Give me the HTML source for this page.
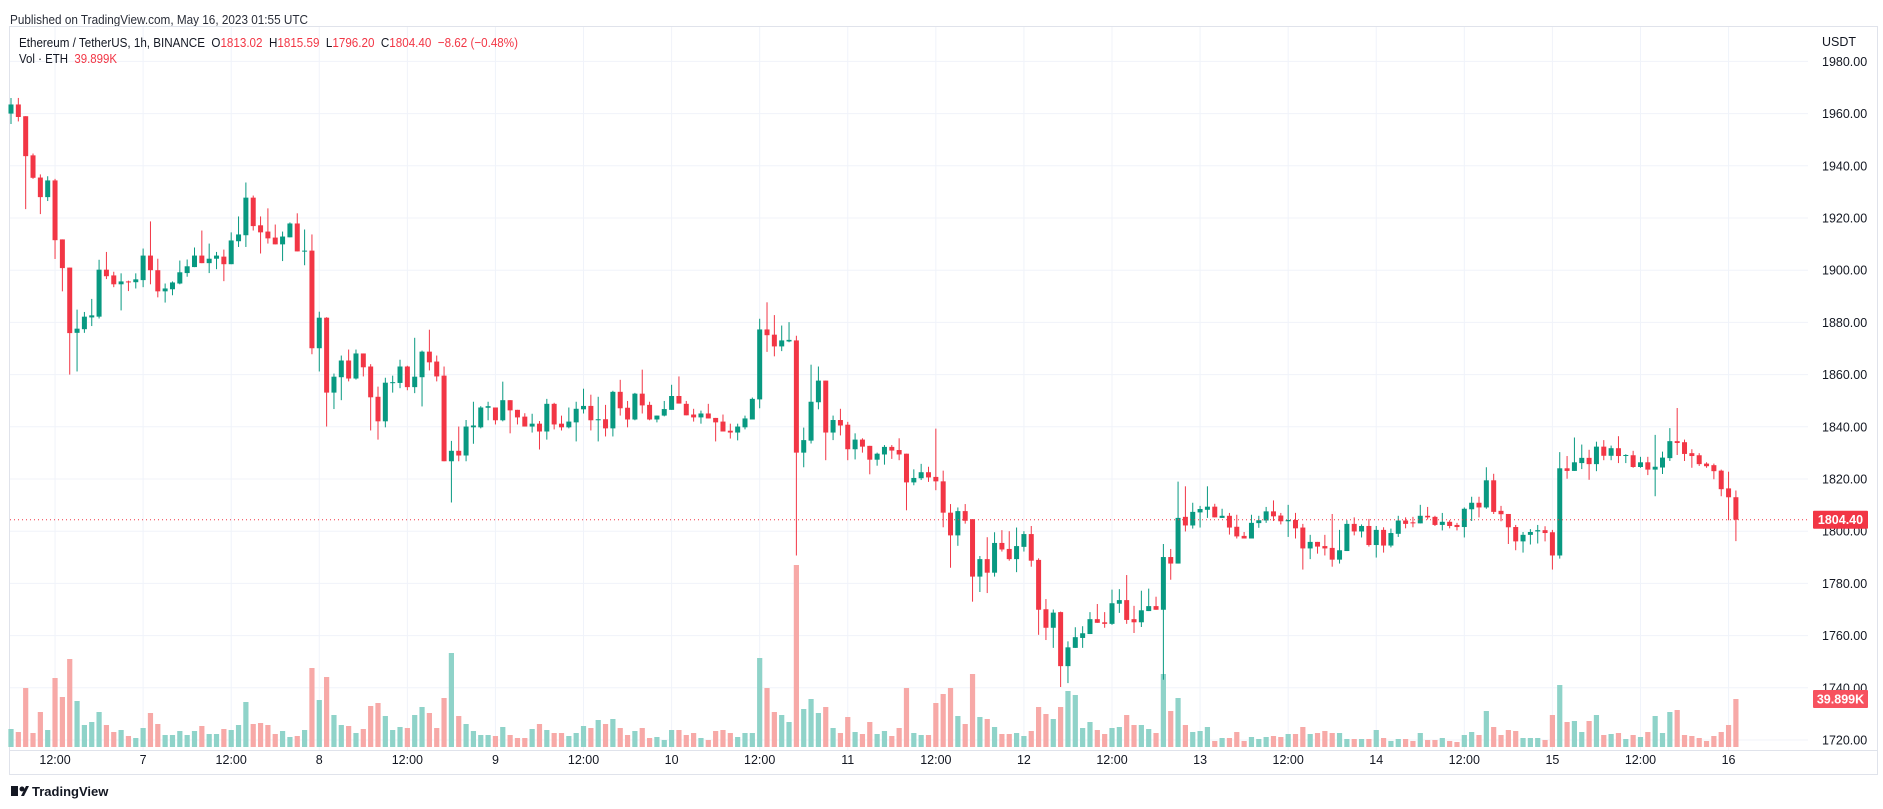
<!DOCTYPE html>
<html><head><meta charset="utf-8"><style>
html,body{margin:0;padding:0;background:#fff;}
svg{display:block;font-family:"Liberation Sans",sans-serif;}
.pre{white-space:pre;}
</style></head><body>
<svg id="chart" width="1883" height="809" viewBox="0 0 1883 809" xmlns="http://www.w3.org/2000/svg">
<rect x="0" y="0" width="1883" height="809" fill="#ffffff"/>
<text x="10" y="24" font-size="13" fill="#2a2e39" textLength="298" lengthAdjust="spacingAndGlyphs">Published on TradingView.com, May 16, 2023 01:55 UTC</text>
<rect x="9.5" y="26.5" width="1868" height="748" fill="none" stroke="#e0e3eb"/>
<g id="grid"></g>
<g id="volumes"></g>
<g id="candles"></g>
<g id="axes"></g>
<text class="pre" x="19" y="47" font-size="13" fill="#131722" textLength="499" lengthAdjust="spacingAndGlyphs">Ethereum / TetherUS, 1h, BINANCE  O<tspan fill="#f23645">1813.02</tspan>  H<tspan fill="#f23645">1815.59</tspan>  L<tspan fill="#f23645">1796.20</tspan>  C<tspan fill="#f23645">1804.40  −8.62 (−0.48%)</tspan></text>
<text class="pre" x="19" y="63" font-size="13" fill="#131722" textLength="98" lengthAdjust="spacingAndGlyphs">Vol · ETH  <tspan fill="#f23645">39.899K</tspan></text>
<text x="1822" y="46" font-size="12.5" fill="#131722">USDT</text>
<g>
<rect x="11" y="786" width="7" height="10" fill="#131722"/>
<circle cx="22" cy="789" r="2.5" fill="#131722"/>
<path d="M21 796 L26 786 L29 786 L24 796 Z" fill="#131722"/>
<text x="32" y="796" font-size="13" font-weight="bold" fill="#131722">TradingView</text>
</g>
</svg>
<script>
const open=[1960,1963.5,1959,1944,1935.5,1928,1934.4,1911.8,1901,1876,1877.4,1881.9,1882.2,1900.2,1898,1894.6,1895.7,1895.4,1896.2,1905.6,1900,1891.9,1892.7,1894.9,1898.9,1901.2,1905.6,1902.7,1904.4,1905.2,1902.3,1911.1,1913.4,1927.8,1917.2,1914.8,1912.5,1909.9,1912.6,1917.9,1907.2,1907.5,1870.1,1881.8,1853.1,1859,1865.4,1858.5,1868.1,1863.1,1851.5,1842.1,1856.9,1856.8,1863.1,1855.2,1859,1868.8,1865,1859.6,1826.8,1830.8,1829,1839.8,1839.8,1847.3,1847.4,1842.5,1850.2,1846.5,1843.9,1840.1,1841.2,1838.2,1848.8,1841.2,1839.8,1841.7,1846.7,1848,1842.5,1842.9,1839.4,1853.4,1847.3,1842.8,1852.7,1848.4,1842.8,1844.3,1846.5,1851.8,1848.8,1844.7,1843.6,1845.1,1843.4,1842,1838.5,1837.8,1839.8,1842.8,1850.5,1877.3,1875.3,1870.8,1872.7,1873.1,1830.1,1834.7,1849.4,1857.7,1837.8,1842.6,1840.8,1831.4,1835.1,1832.7,1827.4,1829.4,1832.3,1831.1,1829.7,1818.7,1820.3,1822.6,1820.8,1819.1,1807.1,1798.4,1807.7,1804.6,1782.6,1789.3,1784.1,1795.5,1793.2,1789.3,1794,1798.9,1789,1770.1,1763,1769,1748.3,1755.3,1759.1,1760.6,1766.3,1765.1,1764.5,1772.2,1773.6,1766.3,1765.1,1769.4,1771.3,1769.9,1790.1,1787.6,1805.5,1802.2,1807.2,1808.2,1809.4,1805.1,1805.9,1801.7,1798.2,1797.2,1803.1,1804.1,1807.6,1806,1803.8,1804.3,1801.4,1793.4,1795.9,1794.3,1793.6,1789.1,1792.4,1802.8,1799.9,1802,1794.7,1800.5,1794.5,1799,1804.1,1803.4,1803,1805.9,1805.5,1802.4,1803.6,1802.4,1801.6,1808.4,1810.9,1809.1,1819.5,1807.8,1806.6,1801.6,1796.1,1798.6,1799.9,1800.4,1799.6,1790.7,1824.1,1823.1,1826.1,1828.1,1825.7,1832.4,1828.9,1831.8,1828.9,1829.1,1824.6,1826.4,1823.6,1824.4,1828,1834.5,1834.1,1829.9,1829.1,1825.9,1825.3,1823.2,1816.4,1813.02];
const high=[1966,1966,1959,1944.7,1936.7,1936,1935,1911.8,1901,1884.9,1884,1889,1904,1907,1899.4,1898.8,1896,1898.8,1908.3,1918.7,1904.4,1894.9,1895.7,1903.7,1904.1,1908.7,1915.2,1910.2,1907,1907.9,1914.5,1920.6,1933.6,1928.6,1920.6,1923.7,1917.5,1914.8,1918.3,1921.8,1915.6,1913.7,1884.1,1882,1860.4,1867.3,1869.6,1869.6,1868.1,1864,1855.4,1858.8,1859.6,1865.7,1863.4,1874.1,1869.2,1877.2,1867.3,1863.1,1834.6,1840.1,1842.6,1849.6,1847.9,1849.6,1847.4,1857.3,1850.2,1846.5,1845.2,1845,1842.2,1850.7,1849.2,1844.3,1847.4,1849.6,1854.6,1852.3,1851.5,1848.4,1853.8,1858,1849.9,1853,1861.9,1849.6,1844.3,1849.9,1856.1,1859.3,1849.9,1846.9,1846.2,1848.8,1843.4,1844.7,1841.2,1841.2,1844.3,1851.2,1881.4,1887.7,1882.8,1878.8,1880.1,1874.9,1839.7,1863.8,1863.1,1857.7,1844.3,1846.9,1841.9,1837.5,1835.6,1832.7,1830.1,1833,1833,1835.6,1829.7,1823.7,1825.8,1824.7,1839.3,1823.2,1810.4,1809.1,1810.4,1804.6,1790.5,1797.7,1799.6,1800.4,1800,1801.4,1800,1802,1789.6,1774,1770,1769.2,1757.8,1763.2,1763.6,1769,1772.1,1769,1777.6,1777.8,1783.2,1771.4,1777.2,1778,1774.9,1795.1,1793.2,1819,1817.2,1810.9,1809.7,1817.2,1810.5,1808.6,1807,1806.3,1799.7,1806.3,1805.9,1809.3,1811.8,1807,1810.1,1807,1802.8,1798.6,1795.9,1798.6,1806.6,1800.5,1804.2,1805.3,1802.6,1804.7,1802,1801.5,1801,1805.9,1805.3,1805.5,1810.1,1809.3,1805.9,1807,1804.2,1803.2,1809.1,1813.2,1813.2,1824.5,1822,1809.7,1806.6,1802.4,1799.7,1800.8,1802.4,1801.9,1800.5,1830.3,1828.8,1835.9,1833.2,1831.2,1834.3,1834.9,1832.8,1836.4,1829.5,1830.8,1828.5,1828.5,1836.9,1830.5,1839.5,1847.2,1835.1,1831.4,1829.9,1826.4,1825.9,1823.6,1822.8,1815.59];
const low=[1956,1957,1923.4,1935,1921.5,1926.5,1904.3,1891.9,1860,1861.2,1876,1878.6,1881.5,1896.6,1893.5,1884.6,1892,1893,1893.5,1894.6,1889.6,1887.6,1890.4,1894.6,1897.5,1901.2,1902.7,1898.9,1900.4,1895.8,1902.3,1908.9,1908.9,1915.2,1906.4,1910.2,1909.9,1903.5,1912.6,1907.2,1901.9,1867.8,1861.2,1840.1,1846.8,1850.2,1857.4,1858.1,1859.3,1838.6,1835.1,1839.8,1853.1,1854.8,1854,1852.9,1847.8,1861.6,1857.4,1826.8,1811,1826.8,1826.8,1833.5,1839.4,1842.5,1840.9,1842.1,1837.5,1840.9,1840.1,1837.8,1831.3,1835.1,1839,1838.6,1839.4,1834.4,1845.1,1838.6,1834.4,1836.3,1836.3,1844.3,1839.8,1842.5,1845.1,1842.5,1841.7,1844,1846.5,1848.9,1844.4,1842,1841.2,1843.2,1834.4,1838.2,1835.5,1834.8,1839,1842.8,1847.1,1868.7,1867,1869,1872.4,1790.7,1824.5,1833.6,1846.7,1827.2,1834.9,1836.7,1827.2,1827.5,1830.1,1821.8,1825.1,1825.5,1827.7,1827.2,1808,1817.6,1819.6,1818.9,1815.7,1801.5,1786,1794.4,1802.9,1773,1776.7,1776.3,1782.6,1792.2,1788.7,1784.3,1792.2,1786.4,1760.3,1758.3,1755.3,1740.3,1741.8,1755.3,1755.3,1760.6,1764.9,1763,1764.1,1768.7,1764.5,1761,1763.3,1769.4,1769.9,1743.1,1781.4,1787.6,1799.9,1801,1801.4,1805.1,1805.3,1805.1,1798.7,1797.2,1797.2,1797.2,1801.3,1803.2,1803.9,1802.6,1797.8,1797.2,1785.3,1789.3,1791.4,1790.7,1786.4,1787.6,1792.4,1798.4,1797.6,1794.1,1789.9,1791.8,1793.8,1797.8,1801.1,1801.5,1803,1804.5,1802,1800.3,1801.1,1800.3,1797.6,1803.9,1805.3,1808.6,1806.6,1803.8,1795.1,1792.7,1791.8,1794.9,1795.3,1796.1,1785.3,1789.5,1820.1,1823.1,1823.8,1819.7,1823,1827.2,1827.2,1826.1,1826.1,1824.3,1824.3,1821.5,1813.4,1821.9,1826.9,1829.2,1826.9,1824.3,1825,1824.3,1819.9,1813.4,1804.2,1796.2];
const close=[1963.5,1958.7,1943.7,1935.4,1928,1934.4,1911.5,1900.8,1875.9,1877.6,1882.2,1882.7,1900.2,1897.7,1894.6,1895.7,1895.4,1896.5,1905.6,1900,1891.9,1893,1895.3,1899.2,1901.5,1905.6,1902.7,1904.4,1905.6,1902.3,1911.4,1913.7,1927.8,1916.9,1914.5,1912.2,1909.9,1912.9,1917.9,1907.2,1907.5,1870.1,1881.8,1853.1,1859.2,1865.4,1858.5,1868.1,1862.8,1851.3,1842.1,1856.9,1857.1,1863.1,1855.2,1859.2,1868.8,1864.7,1859.3,1826.8,1830.8,1829,1840.1,1840.5,1847.4,1847.9,1842.5,1850.2,1846.3,1843.6,1840.1,1841.2,1838.2,1848.8,1840.9,1839.8,1842,1846.9,1848,1842.5,1842.9,1839.4,1853.4,1847.1,1842.8,1852.7,1848.2,1842.8,1844.3,1846.8,1851.8,1848.9,1844.4,1843.6,1845.1,1843.2,1841.7,1838.2,1837.8,1840.1,1843.2,1850.7,1877.3,1875.1,1870.8,1873.1,1873.3,1830.1,1834.9,1849.6,1857.7,1837.8,1842.6,1840.5,1831.4,1835.1,1832.4,1827.4,1829.7,1832.3,1830.9,1829.4,1818.7,1820.4,1822.6,1820.6,1819.1,1807.1,1798.4,1807.7,1804,1782.6,1789.3,1784.1,1795.5,1793,1789.3,1794.3,1798.9,1788.7,1769.9,1763,1768.8,1748.3,1755.5,1759.4,1760.9,1766.3,1764.9,1764.5,1772.4,1773.6,1766,1765.1,1769.7,1771.3,1769.9,1790.1,1787.6,1805.1,1802.2,1807.4,1808.5,1809.4,1805.3,1805.9,1801.4,1798,1797.2,1803.2,1804.2,1807.6,1805.7,1803.8,1804.3,1801.1,1793.4,1795.9,1794.1,1793.4,1789.1,1792.7,1802.8,1799.9,1802,1794.7,1800.5,1794.5,1799.3,1804.1,1802.8,1803,1805.9,1805.3,1802.4,1803.6,1802,1801.6,1808.6,1810.9,1809.1,1819.5,1807.4,1806.5,1801.5,1796.1,1798.6,1799.7,1800.4,1799.3,1790.7,1824.1,1823.1,1826.4,1828.1,1825.7,1832.4,1828.9,1831.8,1828.8,1829.2,1824.6,1826.4,1823.6,1824.7,1828.2,1834.5,1833.8,1829.6,1828.8,1825.7,1824.9,1823,1816.1,1813,1804.4];
// volume in units of ~277 ETH
const volume=[54,45,177,42,105,51,207,150,264,138,66,75,105,66,45,51,33,27,57,102,69,36,36,48,36,48,63,39,39,54,51,66,135,69,72,66,39,48,30,33,51,237,141,210,96,66,63,42,54,123,132,93,51,60,57,96,120,102,57,147,282,93,69,48,36,36,33,60,36,27,27,54,69,51,42,42,33,42,63,57,81,69,84,57,36,48,57,27,30,21,51,51,36,42,27,21,48,51,42,30,42,42,267,177,105,96,75,546,114,144,102,120,57,42,90,45,39,75,39,48,33,57,177,42,36,36,132,159,177,93,69,219,90,84,60,39,39,42,33,48,120,99,84,120,168,156,57,75,51,39,57,60,96,66,66,54,42,219,108,147,66,45,48,60,18,27,27,45,18,30,24,30,33,30,39,39,60,39,42,48,42,42,24,24,24,24,51,27,18,24,24,18,42,21,21,27,18,15,36,45,36,108,60,36,51,48,27,27,27,21,96,186,75,78,45,78,96,36,39,42,24,36,30,45,93,42,105,111,36,33,27,18,33,45,66,144];
const priceTicks=[1720,1740,1760,1780,1800,1820,1840,1860,1880,1900,1920,1940,1960,1980];
const timeTickIdx=[6,18,30,42,54,66,78,90,102,114,126,138,150,162,174,186,198,210,222,234];
const timeTickLabels=["12:00","7","12:00","8","12:00","9","12:00","10","12:00","11","12:00","12","12:00","13","12:00","14","12:00","15","12:00","16"];
const lastPrice=1804.40;
const lastVolumeLabel="39.899K";

const NS="http://www.w3.org/2000/svg";
const X0=11, DX=7.34, PANE_R=1808, VOL_BASE=747;
function xAt(i){return X0+DX*i;}
function yAt(p){return 113.6+(1960-p)*2.61;}
function volH(v){return v/3;}
function mk(tag,attrs,parent){const e=document.createElementNS(NS,tag);for(const k in attrs)e.setAttribute(k,attrs[k]);parent.appendChild(e);return e;}
const G=document.getElementById('grid'),V=document.getElementById('volumes'),C=document.getElementById('candles'),A=document.getElementById('axes');

priceTicks.forEach(p=>{
  const l=mk('line',{x1:10,x2:PANE_R,y1:yAt(p),y2:yAt(p),stroke:'#f0f3fa','stroke-width':1},G);
  
  
  const t=mk('text',{x:1822,y:yAt(p)+4.5,'font-size':12.5,fill:'#131722'},A);
  
  
  t.textContent=p.toFixed(2);
});
timeTickIdx.forEach((idx,k)=>{
  const x=xAt(idx);
  const l=mk('line',{x1:x,x2:x,y1:27,y2:750,stroke:'#f0f3fa','stroke-width':1},G);
  
  
  const t=mk('text',{x:x,y:764,'font-size':12.5,fill:'#131722','text-anchor':'middle'},A);
  
  
  t.textContent=timeTickLabels[k];
});
const sep=mk('line',{x1:10,x2:1877,y1:750.5,y2:750.5,stroke:'#e0e3eb'},A);



volume.forEach((v,i)=>{
  const up=close[i]>=open[i];
  const h=volH(v);
  const r=mk('rect',{x:xAt(i)-2.6,y:VOL_BASE-h,width:5.2,height:h,fill:up?'#8fd3c9':'#f7a9a7'},V);
  
  
});
close.forEach((c,i)=>{
  const o=open[i],up=c>=o,col=up?'#089981':'#f23645',x=xAt(i);
  const g=mk('g',{},C);
  
  
  mk('line',{x1:x,x2:x,y1:yAt(high[i]),y2:yAt(low[i]),stroke:col,'stroke-width':1},g);
  const top=yAt(Math.max(o,c)),bot=yAt(Math.min(o,c));
  mk('rect',{x:x-2.5,y:top,width:5,height:Math.max(1,bot-top),fill:col},g);
});

const ly=yAt(lastPrice);
const pl=mk('line',{x1:10,x2:PANE_R,y1:ly,y2:ly,stroke:'#f23645','stroke-width':1,'stroke-dasharray':'1 3'},A);


const pb=mk('rect',{x:1813,y:ly-9,width:55,height:18,fill:'#f23645',rx:1},A);


const pt=mk('text',{x:1840.5,y:ly+4.5,'font-size':12.5,'font-weight':'bold',fill:'#fff','text-anchor':'middle'},A);


pt.textContent=lastPrice.toFixed(2);
const vy=VOL_BASE-volH(volume[volume.length-1]);
const vb=mk('rect',{x:1813,y:vy-9,width:55,height:18,fill:'#f7525f',rx:1},A);


const vt=mk('text',{x:1840.5,y:vy+4.5,'font-size':12.5,'font-weight':'bold',fill:'#fff','text-anchor':'middle'},A);


vt.textContent=lastVolumeLabel;
</script>
</body></html>
